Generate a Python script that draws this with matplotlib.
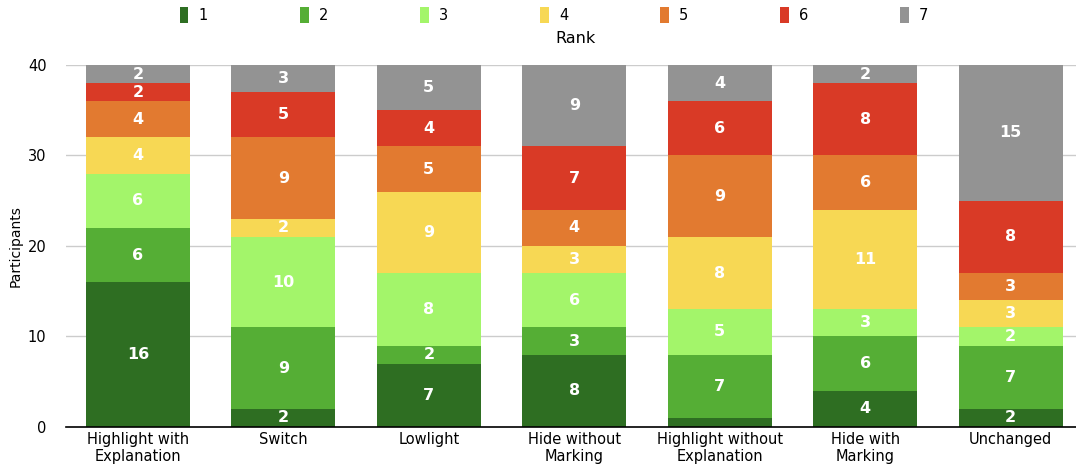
import matplotlib
matplotlib.use("Agg")
import matplotlib.pyplot as plt
import numpy as np

categories = ["Highlight with\nExplanation", "Switch", "Lowlight", "Hide without\nMarking",
              "Highlight without\nExplanation", "Hide with\nMarking", "Unchanged"]
ranks = ["1", "2", "3", "4", "5", "6", "7"]
rank1 = [16, 2, 7, 8, 1, 4, 2]
rank2 = [6, 9, 2, 3, 7, 6, 7]
rank3 = [6, 10, 8, 6, 5, 3, 2]
rank4 = [4, 2, 9, 3, 8, 11, 3]
rank5 = [4, 9, 5, 4, 9, 6, 3]
rank6 = [2, 5, 4, 7, 6, 8, 8]
rank7 = [2, 3, 5, 9, 4, 2, 15]
colors = ["#2e6e22", "#55ae35", "#a3f56a", "#f7d854", "#e27a30", "#d93a26", "#939393"]

series = [rank1, rank2, rank3, rank4, rank5, rank6, rank7]

fig = plt.figure(figsize=(10.76, 4.69), dpi=100)
ax = fig.add_axes([0.0613, 0.0896, 0.9387, 0.7718])

x = np.arange(len(categories))
bottom = np.zeros(len(categories))
handles = []
for vals, col, lab in zip(series, colors, ranks):
    vals = np.array(vals)
    bars = ax.bar(x, vals, 0.715, bottom=bottom, color=col, label=lab, zorder=2)
    handles.append(bars)
    for xi, b, v in zip(x, bottom, vals):
        if v >= 2:
            ax.text(xi, b + v / 2, str(v), ha="center", va="center", color="white",
                    fontsize=11.5, fontweight="bold", zorder=3)
    bottom += vals

ax.set_xlim(-0.495, 6.45)
ax.set_ylim(0, 40)
ax.set_yticks([0, 10, 20, 30, 40])
ax.set_xticks(x)
ax.set_xticklabels(categories, fontsize=10.5)
ax.tick_params(axis="both", length=0, labelsize=10.5)
ax.tick_params(axis="y", pad=14)
ax.grid(axis="y", color="#cccccc", linewidth=1, zorder=0)
for s in ["top", "right", "left"]:
    ax.spines[s].set_visible(False)
ax.spines["bottom"].set_color("black")
ax.spines["bottom"].set_linewidth(1.2)
ax.set_ylabel("Participants", fontsize=10)
ax.yaxis.set_label_coords(-0.043, 0.5)

fig.legend(handles=handles, labels=ranks, loc="center", bbox_to_anchor=(0.515, 0.968),
           ncol=7, frameon=False, fontsize=10.5, handlelength=0.6, handleheight=1.4,
           columnspacing=6.3, handletextpad=0.7)
fig.text(0.535, 0.918, "Rank", ha="center", va="center", fontsize=11.5)

fig.savefig("out.png", dpi=100)
